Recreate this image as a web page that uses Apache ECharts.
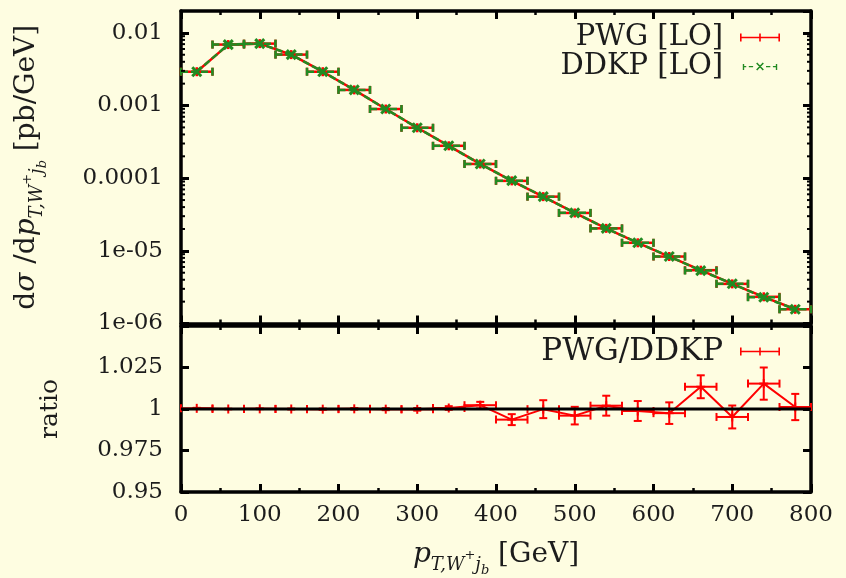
<!DOCTYPE html>
<html>
<head>
<meta charset="utf-8">
<script src="https://cdn.jsdelivr.net/npm/echarts@6/dist/echarts.min.js"></script>
<style>
  html, body { margin: 0; padding: 0; background: #fefde1; }
  #chart { width: 846px; height: 578px; }
</style>
</head>
<body>
<div id="chart"></div>
<script>
// Bin centres of the transverse-momentum histogram (GeV), each bin 40 GeV wide
const binCenters = [20, 60, 100, 140, 180, 220, 260, 300, 340, 380,
                    420, 460, 500, 540, 580, 620, 660, 700, 740, 780];
const binHalfWidth = 20;

// Differential cross section [pb/GeV], leading order
const pwgLO = [2.92e-3, 6.90e-3, 7.11e-3, 5.02e-3, 2.92e-3, 1.64e-3, 8.95e-4, 4.94e-4, 2.79e-4, 1.57e-4,
               9.18e-5, 5.57e-5, 3.32e-5, 2.04e-5, 1.29e-5, 8.35e-6, 5.42e-6, 3.51e-6, 2.33e-6, 1.57e-6];
const ddkpLO = [2.92e-3, 6.90e-3, 7.11e-3, 5.02e-3, 2.92e-3, 1.64e-3, 8.95e-4, 4.94e-4, 2.79e-4, 1.566e-4,
                9.24e-5, 5.57e-5, 3.333e-5, 2.036e-5, 1.292e-5, 8.37e-6, 5.35e-6, 3.53e-6, 2.295e-6, 1.568e-6];

// PWG/DDKP ratio and its statistical uncertainty
const ratio = [1.0004, 1.0000, 1.0001, 1.0000, 0.9999, 1.0001, 0.9999, 0.9998, 1.0006, 1.0023,
               0.9936, 0.9999, 0.9960, 1.0020, 0.9988, 0.9975, 1.0134, 0.9952, 1.0153, 1.0012];
const ratioErr = [0.0003, 0.0002, 0.0002, 0.0003, 0.0004, 0.0005, 0.0006, 0.0008, 0.0011, 0.0020,
                  0.0033, 0.0054, 0.0053, 0.0060, 0.0060, 0.0065, 0.0069, 0.0069, 0.0097, 0.0079];

// Tick labels
const logTickLabels = { '-2': '0.01', '-3': '0.001', '-4': '0.0001', '-5': '1e-05', '-6': '1e-06' };
const ratioTicks = [0.95, 0.975, 1, 1.025];
const ratioTickLabels = ['0.95', '0.975', '1', '1.025'];
const logMinorMultipliers = [2, 3, 4, 5, 6, 7, 8, 9];
const logDecades = [1e-6, 1e-5, 1e-4, 1e-3, 1e-2];

const RED = '#ff0000';
const GREEN = '#228b22';
const INK = '#1c1c1c';
const FONT = 'DejaVu Serif';

const pair = (xs, ys) => xs.map((x, i) => [x, ys[i]]);
const triple = (xs, ys, es) => xs.map((x, i) => [x, ys[i], es[i]]);

const logMinorValues = [];
logDecades.forEach(d => logMinorMultipliers.forEach(m => {
  const v = d * m;
  if (v < 0.02) logMinorValues.push(v);
}));

// Horizontal (bin) error bar with end caps and a point marker; optional vertical error
function errorBarRenderer(color, dash, marker, withYErr, width) {
  return function (params, api) {
    const x = api.value(0), y = api.value(1);
    const c = api.coord([x, y]);
    const l = api.coord([x - binHalfWidth, y]);
    const r = api.coord([x + binHalfWidth, y]);
    const cap = 4;
    const solid = { stroke: color, lineWidth: width, fill: null };
    const bar = { stroke: color, lineWidth: width, fill: null, lineDash: dash };
    const kids = [
      { type: 'line', shape: { x1: l[0], y1: l[1], x2: r[0], y2: r[1] }, style: bar },
      { type: 'line', shape: { x1: l[0], y1: l[1] - cap, x2: l[0], y2: l[1] + cap }, style: solid },
      { type: 'line', shape: { x1: r[0], y1: r[1] - cap, x2: r[0], y2: r[1] + cap }, style: solid }
    ];
    if (withYErr) {
      const e = api.value(2);
      const t = api.coord([x, y + e]);
      const b = api.coord([x, y - e]);
      kids.push(
        { type: 'line', shape: { x1: t[0], y1: t[1], x2: b[0], y2: b[1] }, style: solid },
        { type: 'line', shape: { x1: t[0] - cap, y1: t[1], x2: t[0] + cap, y2: t[1] }, style: solid },
        { type: 'line', shape: { x1: b[0] - cap, y1: b[1], x2: b[0] + cap, y2: b[1] }, style: solid }
      );
    }
    const m = 4.5;
    if (marker === 'plus') {
      kids.push(
        { type: 'line', shape: { x1: c[0], y1: c[1] - m, x2: c[0], y2: c[1] + m }, style: solid },
        { type: 'line', shape: { x1: c[0] - m, y1: c[1], x2: c[0] + m, y2: c[1] }, style: solid }
      );
    } else if (marker === 'cross') {
      kids.push(
        { type: 'line', shape: { x1: c[0] - m, y1: c[1] - m, x2: c[0] + m, y2: c[1] + m }, style: { stroke: color, lineWidth: 3 } },
        { type: 'line', shape: { x1: c[0] - m, y1: c[1] + m, x2: c[0] + m, y2: c[1] - m }, style: { stroke: color, lineWidth: 3 } }
      );
    }
    return { type: 'group', children: kids };
  };
}

// Minor ticks of the logarithmic axis, drawn inward on both frame sides
function logMinorTickRenderer(params, api) {
  const v = api.value(0);
  const a = api.coord([0, v]);
  const b = api.coord([800, v]);
  const st = { stroke: '#000', lineWidth: 2 };
  return {
    type: 'group',
    children: [
      { type: 'line', shape: { x1: a[0], y1: a[1], x2: a[0] + 4, y2: a[1] }, style: st },
      { type: 'line', shape: { x1: b[0], y1: b[1], x2: b[0] - 4, y2: b[1] }, style: st }
    ]
  };
}

const frameLine = { show: true, onZero: false, lineStyle: { color: '#000', width: 3.5 } };
const majorTick = { show: true, inside: true, length: 8, lineStyle: { color: '#000', width: 3 } };
const minorTick = { show: true, splitNumber: 2, length: 4, lineStyle: { color: '#000', width: 2.5 } };

function xAxisDef(grid, position, withLabels) {
  return {
    type: 'value', gridIndex: grid, position: position,
    min: 0, max: 800, interval: 100,
    axisLine: frameLine, axisTick: majorTick, minorTick: minorTick,
    splitLine: { show: false },
    axisLabel: { show: withLabels, margin: 12, color: INK, fontFamily: FONT, fontSize: 23 }
  };
}

const subStyle = { fontFamily: FONT, fontSize: 18, fontStyle: 'italic', color: INK, verticalAlign: 'bottom', lineHeight: 18 };
const supStyle = { fontFamily: FONT, fontSize: 13, color: INK, verticalAlign: 'bottom', lineHeight: 13, padding: [0, 0, 12, 0] };
const subsubStyle = { fontFamily: FONT, fontSize: 13, fontStyle: 'italic', color: INK, verticalAlign: 'bottom', lineHeight: 13, padding: [0, 0, -3, 0] };
const richTitle = {
  n: { fontFamily: FONT, fontSize: 28, color: INK, lineHeight: 38 },
  it: { fontFamily: FONT, fontSize: 28, fontStyle: 'italic', color: INK, lineHeight: 38 },
  s: subStyle, sp: supStyle, ss: subsubStyle
};

const barIcon = 'path://M0,0h1.6v8h-1.6z M38.4,0h1.6v8h-1.6z M0,3.2h40v1.6h-40z M19.2,0h1.6v8h-1.6z';
const dashIcon = 'path://M0,1h1.6v7h-1.6z M0,3.2h4v1.6h-4z M7,3.2h5v1.6h-5z M27,3.2h5v1.6h-5z M35,3.2h5v1.6h-5z M38.4,1h1.6v7h-1.6z M15.5,0.5L16.8,-0.8L24.5,7.2L23.2,8.5z M23.2,-0.8L24.5,0.5L16.8,8.5L15.5,7.2z';

const option = {
  backgroundColor: '#fefde1',
  animation: false,
  grid: [
    { left: 181, top: 11, width: 630, height: 312.5 },
    { left: 181, top: 326, width: 630, height: 166.5 }
  ],
  legend: [
    {
      orient: 'vertical', right: 61, top: 18, align: 'right',
      itemWidth: 40, itemHeight: 8, itemGap: 0, selectedMode: false,
      textStyle: { fontFamily: FONT, fontSize: 29, color: INK, lineHeight: 27, padding: [0, 12, 0, 0] },
      data: [
        { name: 'PWG [LO]', icon: barIcon, itemStyle: { color: RED } },
        { name: 'DDKP [LO]', icon: dashIcon, itemStyle: { color: GREEN } }
      ]
    },
    {
      orient: 'vertical', right: 61, top: 331, align: 'right',
      itemWidth: 40, itemHeight: 8, itemGap: 0, selectedMode: false,
      textStyle: { fontFamily: FONT, fontSize: 31, color: INK, lineHeight: 27, padding: [0, 12, 0, 0] },
      data: [
        { name: 'PWG/DDKP', icon: barIcon, itemStyle: { color: RED } }
      ]
    }
  ],
  xAxis: [
    xAxisDef(0, 'bottom', false),
    xAxisDef(0, 'top', false),
    Object.assign(xAxisDef(1, 'bottom', true), {
      name: '{it|p}{s|T,W}{sp|+}{s|j}{ss|b}{n| [GeV]}',
      nameLocation: 'middle', nameGap: 44,
      nameTextStyle: { rich: richTitle }
    }),
    xAxisDef(1, 'top', false)
  ],
  yAxis: [
    {
      type: 'log', gridIndex: 0, position: 'left', min: 1e-6, max: 0.02, logBase: 10,
      axisLine: frameLine, axisTick: majorTick, splitLine: { show: false },
      axisLabel: {
        margin: 18, color: INK, fontFamily: FONT, fontSize: 23,
        formatter: v => logTickLabels[String(Math.round(Math.log10(v)))] || ''
      },
      name: '{n|d}{it|σ}{n| /d}{it|p}{s|T,W}{sp|+}{s|j}{ss|b}{n| [pb/GeV]}',
      nameLocation: 'middle', nameGap: 135, nameRotate: 90,
      nameTextStyle: { rich: richTitle }
    },
    {
      type: 'log', gridIndex: 0, position: 'right', min: 1e-6, max: 0.02, logBase: 10,
      axisLine: frameLine, axisTick: majorTick, splitLine: { show: false },
      axisLabel: { show: false }
    },
    {
      type: 'value', gridIndex: 1, position: 'left', min: 0.95, max: 1.05, interval: 0.025,
      axisLine: frameLine, axisTick: majorTick, splitLine: { show: false },
      axisLabel: {
        margin: 18, color: INK, fontFamily: FONT, fontSize: 23,
        formatter: v => {
          const i = ratioTicks.findIndex(t => Math.abs(t - v) < 1e-6);
          return i >= 0 ? ratioTickLabels[i] : '';
        }
      },
      name: 'ratio', nameLocation: 'middle', nameGap: 118, nameRotate: 90,
      nameTextStyle: { fontFamily: FONT, fontSize: 25, color: INK }
    },
    {
      type: 'value', gridIndex: 1, position: 'right', min: 0.95, max: 1.05, interval: 0.025,
      axisLine: frameLine, axisTick: majorTick, splitLine: { show: false },
      axisLabel: { show: false }
    }
  ],
  series: [
    {
      type: 'custom', name: 'log minor ticks', xAxisIndex: 0, yAxisIndex: 0, z: 10,
      renderItem: logMinorTickRenderer,
      data: logMinorValues.map(v => [v]),
      encode: { y: 0 }, silent: true
    },
    {
      type: 'line', name: 'PWG [LO]', xAxisIndex: 0, yAxisIndex: 0, z: 2,
      data: pair(binCenters, pwgLO), symbol: 'none',
      itemStyle: { color: RED }, lineStyle: { color: RED, width: 2.5 }
    },
    {
      type: 'custom', name: 'PWG [LO] bins', xAxisIndex: 0, yAxisIndex: 0, z: 2,
      renderItem: errorBarRenderer(RED, null, 'plus', false, 2.5),
      data: pair(binCenters, pwgLO), encode: { x: 0, y: 1 }
    },
    {
      type: 'line', name: 'DDKP [LO]', xAxisIndex: 0, yAxisIndex: 0, z: 3,
      data: pair(binCenters, ddkpLO), symbol: 'none',
      itemStyle: { color: GREEN }, lineStyle: { color: GREEN, width: 2.5, type: [7, 3] }
    },
    {
      type: 'custom', name: 'DDKP [LO] bins', xAxisIndex: 0, yAxisIndex: 0, z: 3,
      renderItem: errorBarRenderer(GREEN, [7, 3], 'cross', false, 2.5),
      data: pair(binCenters, ddkpLO), encode: { x: 0, y: 1 }
    },
    {
      type: 'line', name: 'PWG/DDKP', xAxisIndex: 2, yAxisIndex: 2, z: 2,
      data: pair(binCenters, ratio), symbol: 'none',
      itemStyle: { color: RED }, lineStyle: { color: RED, width: 2 }
    },
    {
      type: 'custom', name: 'PWG/DDKP bins', xAxisIndex: 2, yAxisIndex: 2, z: 2,
      renderItem: errorBarRenderer(RED, null, 'plus', true, 2),
      data: triple(binCenters, ratio, ratioErr), encode: { x: 0, y: 1 }
    },
    {
      type: 'line', name: 'unity', xAxisIndex: 2, yAxisIndex: 2, z: 6,
      data: [[0, 1], [800, 1]], symbol: 'none',
      lineStyle: { color: '#000', width: 3 }, silent: true
    }
  ]
};

const chart = echarts.init(document.getElementById('chart'), null, { renderer: 'canvas' });
chart.setOption(option);
</script>
</body>
</html>
